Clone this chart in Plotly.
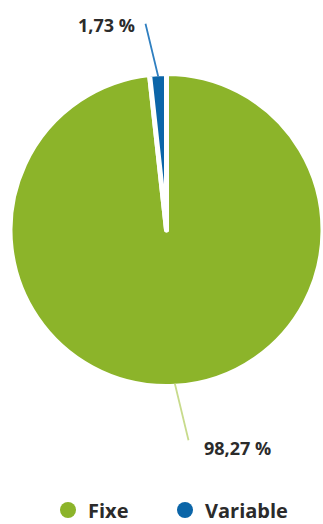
import math
import plotly.graph_objects as go

# Data
categories = ["Fixe", "Variable"]
shares = [98.27, 1.73]
share_labels = ["98,27 %", "1,73 %"]
slice_colors = ["#8cb42a", "#0b65a8"]
leader_colors = ["#c8db8c", "#2f7fc0"]

# Canvas and pie placement
W, H = 323, 524
dom_x = [0.031, 1.0]
dom_y = [0.262, 0.86]
border_w = 5

# Leader line (tail offset from slice edge) and label offsets, in pixels
leader_offsets = [(14, 58), (-13, -54)]
label_offsets = [(27, 64), (-21, -51)]
label_anchor = ["left", "right"]

# One legend box per category, placed along the bottom
legend_x = [48, 165]
legend_ids = ["legend", "legend2"]

TEXT_COLOR = "#2b2b2b"
FONT = "Open Sans"

fig = go.Figure()
fig.add_trace(go.Pie(
    labels=categories,
    values=shares,
    sort=False,
    direction="clockwise",
    rotation=0,
    marker=dict(colors=slice_colors, line=dict(color="white", width=border_w)),
    textinfo="none",
    hoverinfo="label+percent",
    showlegend=False,
    domain=dict(x=dom_x, y=dom_y),
))

# Legend entries drawn as round markers
for name, col, lid in zip(categories, slice_colors, legend_ids):
    fig.add_trace(go.Scatter(
        x=[None], y=[None], mode="markers", name=f"<b>{name}</b>",
        marker=dict(color=col, size=16, symbol="circle"),
        hoverinfo="skip", legend=lid,
    ))

# Pie geometry in pixels
cx = W * (dom_x[0] + dom_x[1]) / 2
cy = H * (1 - (dom_y[0] + dom_y[1]) / 2)
r = min(W * (dom_x[1] - dom_x[0]), H * (dom_y[1] - dom_y[0])) / 2 - border_w / 2

total = sum(shares)
start = 0.0
annotations = []
for i, v in enumerate(shares):
    sweep = 360.0 * v / total
    mid = math.radians(start + sweep / 2)
    start += sweep
    px = cx + r * math.sin(mid)
    py = cy - r * math.cos(mid)
    lx, ly = leader_offsets[i]
    annotations.append(dict(
        x=px / W, y=1 - py / H, xref="paper", yref="paper",
        text="", showarrow=True, arrowhead=0, arrowwidth=1.8,
        arrowcolor=leader_colors[i], ax=lx, ay=ly, standoff=0,
    ))
    tx, ty = label_offsets[i]
    annotations.append(dict(
        x=(px + tx) / W, y=1 - (py + ty) / H, xref="paper", yref="paper",
        text=f"<b>{share_labels[i]}</b>", showarrow=False,
        xanchor=label_anchor[i], yanchor="middle",
        font=dict(family=FONT, size=18, color=TEXT_COLOR),
    ))

legend_style = dict(
    orientation="h", xanchor="left", y=1 - 510 / H, yanchor="middle",
    font=dict(family=FONT, size=20, color=TEXT_COLOR),
    bgcolor="rgba(0,0,0,0)",
)

fig.update_layout(
    width=W, height=H,
    margin=dict(l=0, r=0, t=0, b=0, autoexpand=False),
    paper_bgcolor="white", plot_bgcolor="white",
    xaxis=dict(visible=False), yaxis=dict(visible=False),
    annotations=annotations,
    legend=dict(x=legend_x[0] / W, **legend_style),
    legend2=dict(x=legend_x[1] / W, **legend_style),
)

fig.write_html("out.html")
